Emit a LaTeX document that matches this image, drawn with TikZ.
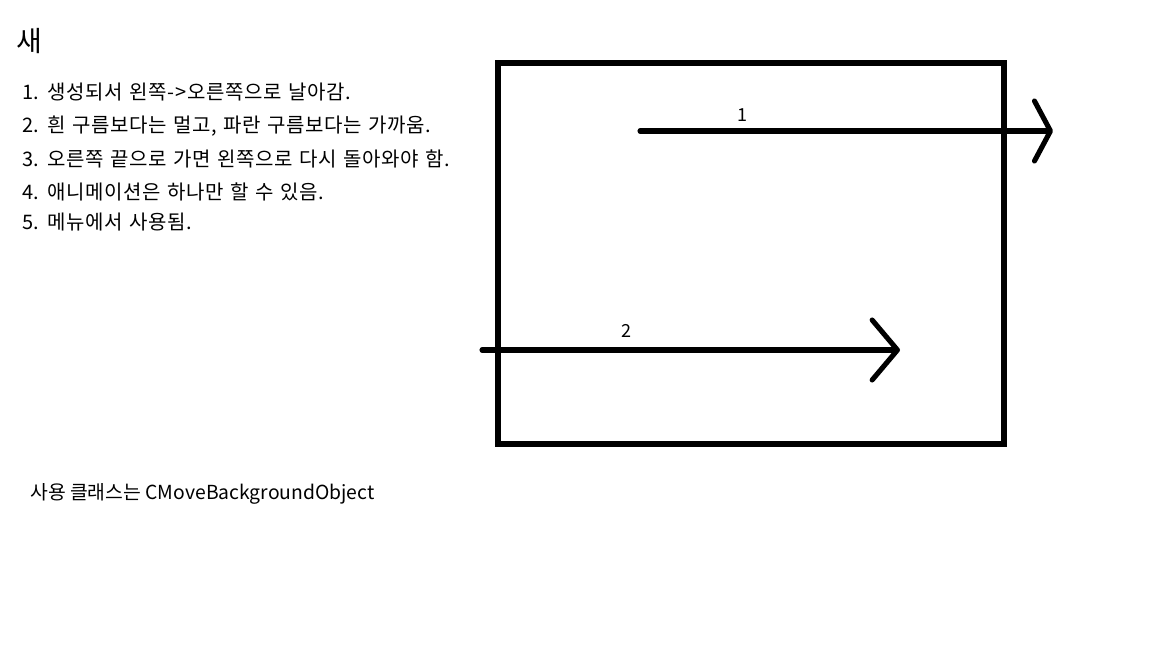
\documentclass[tikz,border=0pt]{standalone}
\usepackage{fontspec}
\setmainfont{Noto Sans CJK KR}
\newfontfamily\notefont[LetterSpace=3, WordSpace=1.3]{Noto Sans CJK KR}
\usetikzlibrary{arrows.meta}

\tikzset{
	thick line/.style={line width=3.8pt, line cap=round, line join=round},
	note/.style={anchor=base west, inner sep=0pt, font=\notefont\fontsize{15}{18}\selectfont},
	chevron/.style={-{Straight Barb[length=#1, width=45pt, line cap=round, line join=round]}}
}

\begin{document}
\begin{tikzpicture}[x=0.75pt, y=-0.75pt]
		\useasboundingbox (0,0) rectangle (1152,648);
		% title and notes
		\node[anchor=west, inner sep=0pt, font=\fontsize{21}{24}\selectfont] (title) at (16,41) {새};
		\node[note] (n1) at (22,99.5) {1. 생성되서 왼쪽->오른쪽으로 날아감.};
		\node[note] (n2) at (22,132.5) {2. 흰 구름보다는 멀고, 파란 구름보다는 가까움.};
		\node[note] (n3) at (22,166.5) {3. 오른쪽 끝으로 가면 왼쪽으로 다시 돌아와야 함.};
		\node[note] (n4) at (22,199.5) {4. 애니메이션은 하나만 할 수 있음.};
		\node[note] (n5) at (22,229.5) {5. 메뉴에서 사용됨.};
		\node[anchor=west, inner sep=0pt, font=\fontsize{14.5}{18}\selectfont] (cls) at (30,494) {사용 클래스는 CMoveBackgroundObject};
		% screen
		\draw[line width=4.3pt] (498,63) rectangle (1004,444);
		% path 1
		\coordinate (p1s) at (640,131);
		\coordinate (p1e) at (1053,131);
		\draw[thick line, chevron=12pt] (p1s) -- (p1e);
		\node[anchor=center, font=\fontsize{13.5}{16}\selectfont] (l1) at (742,115) {1};
		% path 2
		\coordinate (p2s) at (482,350);
		\coordinate (p2e) at (900,350);
		\draw[thick line, chevron=19pt] (p2s) -- (p2e);
		\node[anchor=center, font=\fontsize{13.5}{16}\selectfont] (l2) at (626,331) {2};
	\end{tikzpicture}
\end{document}
